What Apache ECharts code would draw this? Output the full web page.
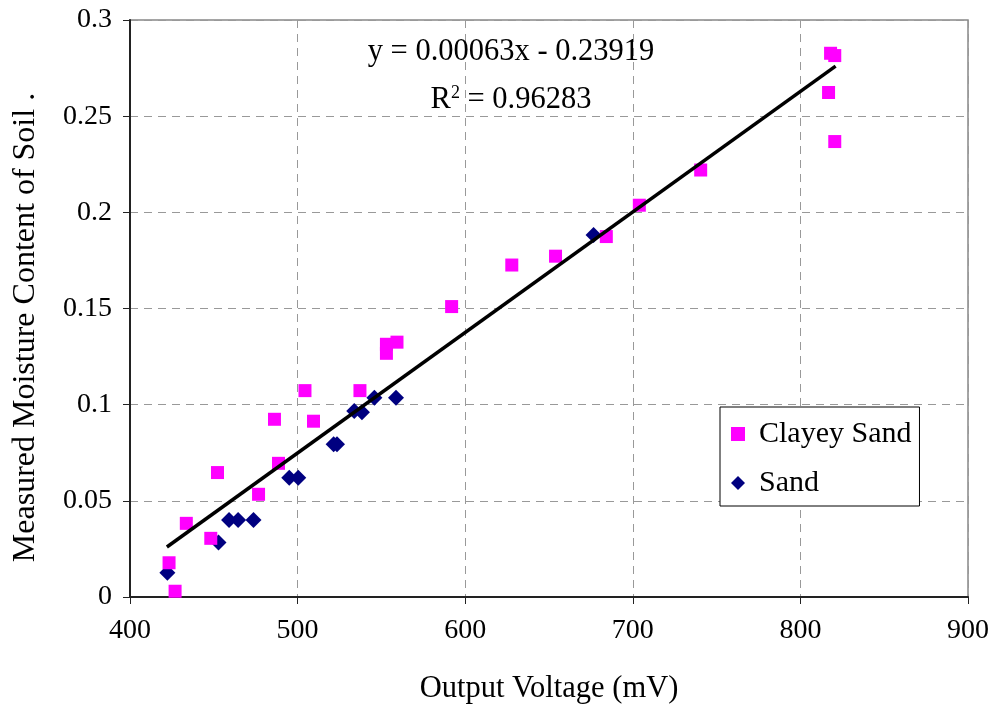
<!DOCTYPE html>
<html><head><meta charset="utf-8">
<script src="https://cdn.jsdelivr.net/npm/echarts@6/dist/echarts.min.js"></script>
<style>html,body{margin:0;padding:0;background:#fff}#c{width:996px;height:713px}</style>
</head><body><div id="c"></div>
<script>
// Clayey Sand: [voltage mV, moisture]
const clayeySand = [
  [423.3,0.0178],[426.9,0.003],[433.6,0.0383],[448.2,0.0305],[452.2,0.0647],
  [476.7,0.0534],[486.2,0.0924],[488.6,0.0695],[504.4,0.1073],[509.5,0.0914],
  [537.2,0.1073],[553,0.1314],[553,0.1267],[559.3,0.1325],[591.9,0.151],
  [627.8,0.1726],[653.9,0.1772],[684.2,0.1874],[703.9,0.2037],[740.5,0.222],
  [816.8,0.2623],[818,0.2827],[820.5,0.2815],[820.5,0.2368]
];
const sand = [
  [422.3,0.0126],[452.8,0.0284],[459.1,0.040],[464.5,0.040],[473.7,0.040],
  [495,0.062],[500.4,0.062],[521.5,0.0794],[523.5,0.0794],[533.8,0.0967],
  [538.4,0.096],[545.8,0.1036],[558.7,0.1036],[676.6,0.1882]
];
const trendLine = [[422,0.026],[821,0.276]];
const equationText = 'y = 0.00063x - 0.23919';
const r2Value = '0.96283';
const xTitle = 'Output Voltage (mV)';
const yTitle = 'Measured Moisture Content of Soil .';

const FONT = '"Liberation Serif", "DejaVu Serif", serif';
const chart = echarts.init(document.getElementById('c'));
const diamond = 'path://M5,0 L10,5 L5,10 L0,5 Z';
chart.setOption({
  animation: false,
  backgroundColor: '#fff',
  grid: {left: 130, right: 28, top: 20, bottom: 116, show: true,
         borderColor: '#888', borderWidth: 1.5, backgroundColor: 'transparent',
         outerBoundsMode: 'none', containLabel: false},
  xAxis: {
    type: 'value', min: 400, max: 900, interval: 100,
    name: xTitle, nameLocation: 'middle', nameGap: 76,
    nameTextStyle: {fontFamily: FONT, fontSize: 30.5, color: '#000'},
    axisLine: {show: true, onZero: false, lineStyle: {color: '#222', width: 2}},
    axisTick: {show: true, inside: false, length: 7, lineStyle: {color: '#222', width: 1}},
    axisLabel: {fontFamily: FONT, fontSize: 28, color: '#000', margin: 20},
    splitLine: {show: true, lineStyle: {color: '#999', type: [8, 6], width: 1}}
  },
  yAxis: {
    type: 'value', min: 0, max: 0.3, interval: 0.05,
    name: yTitle, nameLocation: 'middle', nameGap: 88,
    nameTextStyle: {fontFamily: FONT, fontSize: 32, color: '#000', padding: [0, 38, 0, 0]},
    axisLine: {show: true, onZero: false, lineStyle: {color: '#222', width: 2}},
    axisTick: {show: true, inside: false, length: 7, lineStyle: {color: '#222', width: 1}},
    axisLabel: {fontFamily: FONT, fontSize: 28, color: '#000', margin: 18,
      formatter: v => String(+v.toFixed(2))},
    splitLine: {show: true, lineStyle: {color: '#999', type: [8, 6], width: 1}}
  },
  legend: {
    orient: 'vertical', left: 720, top: 407,
    padding: [12, 8, 8, 11], itemGap: 19,
    borderColor: '#000', borderWidth: 1, backgroundColor: '#fff',
    itemWidth: 14, itemHeight: 14,
    textStyle: {fontFamily: FONT, fontSize: 30, color: '#000', padding: [0, 0, 0, 9]},
    data: [{name: 'Clayey Sand', icon: 'rect'}, {name: 'Sand', icon: diamond}]
  },
  series: [
    {name: 'Sand', type: 'scatter', data: sand, symbol: diamond, symbolSize: 16,
     itemStyle: {color: '#000080', opacity: 1}, z: 2},
    {name: 'Clayey Sand', type: 'scatter', data: clayeySand, symbol: 'rect', symbolSize: 13,
     itemStyle: {color: '#FF00FF', opacity: 1}, z: 3},
    {name: 'trend', type: 'line', data: trendLine, symbol: 'none',
     lineStyle: {color: '#000', width: 3.5}, z: 4, silent: true}
  ],
  graphic: [
    {type: 'text', z: 10, x: 511, y: 52,
     style: {text: equationText, align: 'center', verticalAlign: 'middle', font: '30.5px ' + FONT, fill: '#000'}},
    {type: 'text', z: 10, x: 511, y: 100,
     style: {text: '{a|R}{s|2}{a| = ' + r2Value + '}', align: 'center', verticalAlign: 'middle',
       rich: {a: {fontFamily: FONT, fontSize: 30.5, color: '#000'},
              s: {fontFamily: FONT, fontSize: 18, color: '#000', verticalAlign: 'top', padding: [0, 0, 14, 0]}}}}
  ]
});
</script></body></html>
